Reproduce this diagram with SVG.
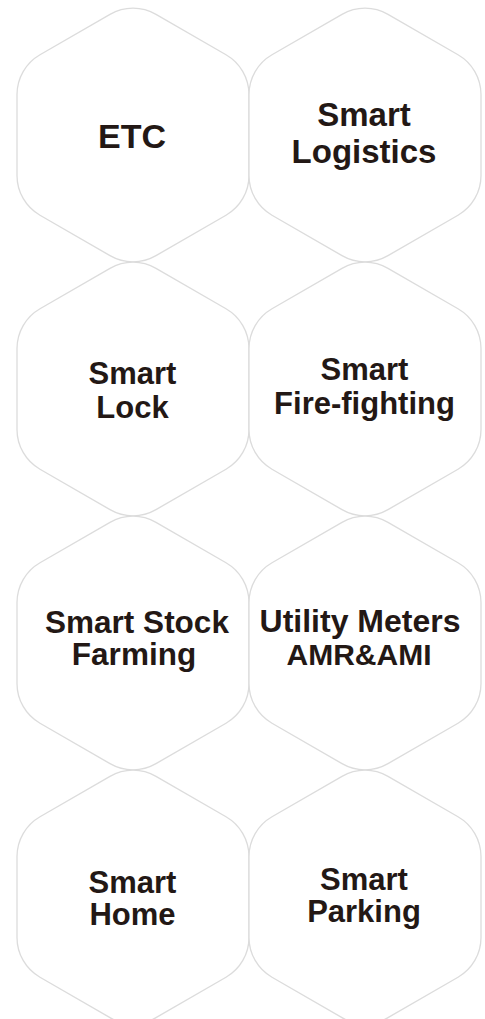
<svg xmlns="http://www.w3.org/2000/svg" xmlns:xlink="http://www.w3.org/1999/xlink" width="485" height="1019" viewBox="0 0 485 1019">
<style>
.hex{fill:#ffffff;stroke:#dcdcdc;stroke-width:1.3}
.t{font-family:"Liberation Sans",Arial,sans-serif;font-weight:bold;fill:#231815;text-anchor:middle}
</style>
<defs>
<path id="hexshape" class="hex" d="M-23,-120.67 A46,46 0 0 1 23,-120.67 L93,-80.25 A46,46 0 0 1 116,-40.41 L116,40.41 A46,46 0 0 1 93,80.25 L23,120.67 A46,46 0 0 1 -23,120.67 L-93,80.25 A46,46 0 0 1 -116,40.41 L-116,-40.41 A46,46 0 0 1 -93,-80.25 Z"/>
</defs>
<rect width="485" height="1019" fill="#ffffff"/>
<g id="connectors"></g>
<g id="etc">
<use xlink:href="#hexshape" href="#hexshape" transform="translate(133,135)"/>
<text class="t" x="132" y="148" font-size="34">ETC</text>
</g>
<g id="smart-logistics">
<use xlink:href="#hexshape" href="#hexshape" transform="translate(365,135)"/>
<text class="t" x="364" y="126" font-size="33">Smart</text>
<text class="t" x="364" y="163" font-size="33">Logistics</text>
</g>
<g id="smart-lock">
<use xlink:href="#hexshape" href="#hexshape" transform="translate(133,389)"/>
<text class="t" x="132.5" y="384" font-size="31">Smart</text>
<text class="t" x="132.5" y="418" font-size="31">Lock</text>
</g>
<g id="smart-fire-fighting">
<use xlink:href="#hexshape" href="#hexshape" transform="translate(365,389)"/>
<text class="t" x="364.5" y="380" font-size="31">Smart</text>
<text class="t" x="364.5" y="414" font-size="31">Fire-fighting</text>
</g>
<g id="smart-stock-farming">
<use xlink:href="#hexshape" href="#hexshape" transform="translate(133,643)"/>
<text class="t" x="137" y="633" font-size="31.5">Smart Stock</text>
<text class="t" x="134" y="665" font-size="31.5">Farming</text>
</g>
<g id="utility-meters">
<use xlink:href="#hexshape" href="#hexshape" transform="translate(365,643)"/>
<text class="t" x="360" y="631.5" font-size="32">Utility Meters</text>
<text class="t" x="359" y="665" font-size="30">AMR&amp;AMI</text>
</g>
<g id="smart-home">
<use xlink:href="#hexshape" href="#hexshape" transform="translate(133,897)"/>
<text class="t" x="132.5" y="893" font-size="31">Smart</text>
<text class="t" x="132.5" y="925" font-size="31">Home</text>
</g>
<g id="smart-parking">
<use xlink:href="#hexshape" href="#hexshape" transform="translate(365,897)"/>
<text class="t" x="364" y="890" font-size="31">Smart</text>
<text class="t" x="364" y="922" font-size="31">Parking</text>
</g>
</svg>
